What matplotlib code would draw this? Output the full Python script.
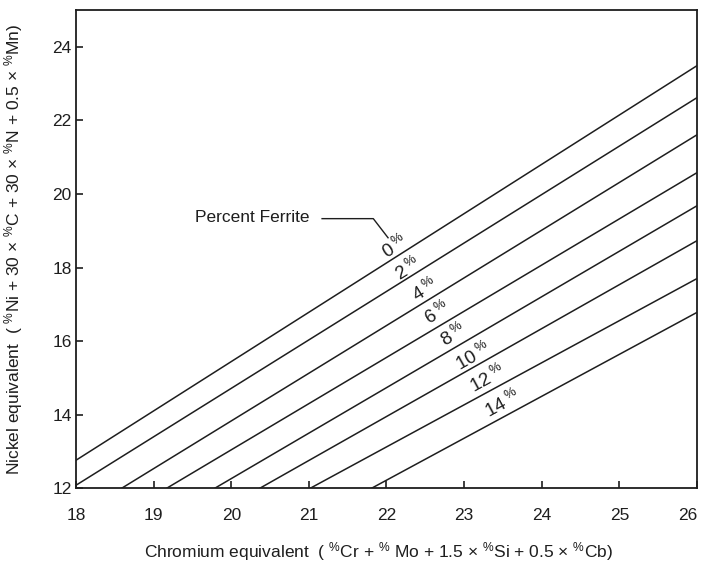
import numpy as np
import matplotlib
matplotlib.use('Agg')
import matplotlib.pyplot as plt

plt.rcParams['font.family'] = ['Liberation Sans', 'DejaVu Sans']
plt.rcParams['mathtext.fontset'] = 'custom'
plt.rcParams['mathtext.rm'] = 'Liberation Sans'
plt.rcParams['mathtext.default'] = 'rm'

# iso-ferrite lines (percent ferrite), start and end points
ferrite = [0, 2, 4, 6, 8, 10, 12, 14]
cr_start = [18.0, 18.0, 18.59, 19.17, 19.79, 20.37, 21.02, 21.81]
ni_start = [12.76, 12.08, 12.0, 12.0, 12.0, 12.0, 12.0, 12.0]
cr_end = [26.0, 26.0, 26.0, 26.0, 26.0, 26.0, 26.0, 26.0]
ni_end = [23.49, 22.62, 21.61, 20.58, 19.68, 18.73, 17.70, 16.78]

# label anchors for each line
lab_cr = [22.11, 22.28, 22.50, 22.66, 22.86, 23.12, 23.30, 23.50]
lab_ni = [18.55, 17.95, 17.38, 16.75, 16.16, 15.56, 14.96, 14.30]

# "Percent Ferrite" leader
lead_cr = [21.17, 21.83, 22.02]
lead_ni = [19.33, 19.33, 18.81]

xticks = [18, 19, 20, 21, 22, 23, 24, 25, 26]
yticks = [12, 14, 16, 18, 20, 22, 24]

ink = '#1e1e1e'

fig = plt.figure(figsize=(7.04, 5.65), dpi=100)
ax = fig.add_axes([0.108, 0.136, 0.882, 0.846])

for i, p in enumerate(ferrite):
    ax.plot([cr_start[i], cr_end[i]], [ni_start[i], ni_end[i]], color=ink, lw=1.1)
    slope = (ni_end[i] - ni_start[i]) / (cr_end[i] - cr_start[i])
    ang = np.degrees(np.arctan(slope))
    ax.text(lab_cr[i], lab_ni[i], r'%d$\,^{\%%}$' % p, fontsize=13.5, color=ink,
            rotation=ang, rotation_mode='anchor', ha='center', va='center',
            transform_rotates_text=True)

ax.plot(lead_cr, lead_ni, color=ink, lw=1.0)
ax.text(19.53, 19.36, 'Percent Ferrite', fontsize=12.5, color=ink,
        ha='left', va='center')

ax.set_xlim(18, 26)
ax.set_ylim(12, 25)
ax.set_xticks(xticks)
ax.set_yticks(yticks)

ax.tick_params(axis='both', direction='in', length=5, width=1.2,
               labelsize=12.5, colors=ink)
ax.tick_params(axis='x', pad=14)
ax.tick_params(axis='y', pad=3)
ax.get_xticklabels()[-1].set_horizontalalignment('right')
for s in ax.spines.values():
    s.set_linewidth(1.3)
    s.set_color(ink)

ax.set_xlabel(r'Chromium equivalent  ( $^{\%}$Cr + $^{\%}$ Mo + 1.5 $\times$ $^{\%}$Si + 0.5 $\times$ $^{\%}$Cb)',
              fontsize=12.5, color=ink)
ax.set_ylabel(r'Nickel equivalent  ( $^{\%}$Ni + 30 $\times$ $^{\%}$C + 30 $\times$ $^{\%}$N + 0.5 $\times$ $^{\%}$Mn)',
              fontsize=12.5, color=ink)
ax.xaxis.set_label_coords(0.488, -0.108)
ax.yaxis.set_label_coords(-0.082, 0.5)

fig.savefig('out.png', dpi=100)
